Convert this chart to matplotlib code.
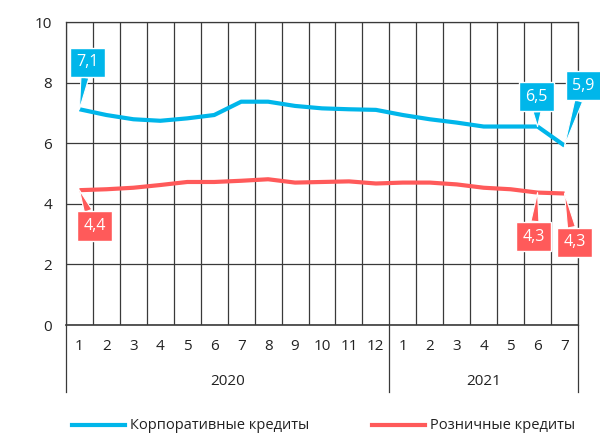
import matplotlib
matplotlib.use("Agg")
import matplotlib.pyplot as plt
from matplotlib.lines import Line2D
import matplotlib.transforms as mtransforms

plt.rcParams['font.family'] = ['Open Sans', 'DejaVu Sans']

# months: 2020 (1-12) + 2021 (1-7)
months = [str(m) for m in range(1, 13)] + [str(m) for m in range(1, 8)]
years = ["2020", "2021"]
year_len = [12, 7]

corp = [7.12, 6.93, 6.79, 6.74, 6.82, 6.93, 7.37, 7.37, 7.23, 7.15, 7.12, 7.10,
        6.93, 6.79, 6.68, 6.55, 6.55, 6.55, 5.92]
retail = [4.45, 4.48, 4.53, 4.62, 4.72, 4.72, 4.76, 4.81, 4.70, 4.72, 4.74, 4.67,
          4.70, 4.70, 4.64, 4.53, 4.48, 4.37, 4.34]

# callouts: (index, text, dx, dy) offsets in pixels
corp_labels = [(0, "7,1", 8, 47), (17, "6,5", -1, 30), (18, "5,9", 19, 60)]
retail_labels = [(0, "4,4", 15, -36), (17, "4,3", -4, -44), (18, "4,3", 10, -49)]

BLUE = "#00B6EA"
RED = "#FF5A5A"
GRID = "#3a3a3a"

fig = plt.figure(figsize=(6, 4.36), dpi=100)
ax = fig.add_axes([66 / 600, 1 - 325 / 436, 512 / 600, 303 / 436])

x = list(range(len(months)))
ax.plot(x, corp, color=BLUE, lw=3, solid_capstyle="butt", zorder=3)
ax.plot(x, retail, color=RED, lw=3, solid_capstyle="butt", zorder=3)

ax.set_xlim(-0.5, len(months) - 0.5)
ax.set_ylim(0, 10)
ax.set_yticks(range(0, 11, 2))
ax.set_xticks(x)
ax.set_xticklabels(months)
ax.set_xticks([i - 0.5 for i in range(len(months) + 1)], minor=True)
ax.tick_params(axis="both", which="both", length=0, labelsize=11, colors="#222222")
ax.tick_params(axis="x", pad=10)
ax.tick_params(axis="y", pad=10)
ax.grid(axis="y", which="major", color=GRID, lw=0.9)
ax.grid(axis="x", which="minor", color=GRID, lw=0.9)
ax.set_axisbelow(True)
for s in ax.spines.values():
    s.set_color(GRID)
    s.set_linewidth(0.9)
ax.spines["bottom"].set_linewidth(1.2)

# year labels and separators
trans = mtransforms.blended_transform_factory(ax.transData, ax.transAxes)
start = 0
seps = [-0.5]
for yr, n in zip(years, year_len):
    ax.text(start + (n - 1) / 2, -0.185, yr, transform=trans, ha="center", va="center",
            fontsize=11, color="#222222")
    start += n
    seps.append(start - 0.5)
for s in seps:
    ax.plot([s, s], [0, -0.222], transform=trans, color=GRID, lw=0.9, clip_on=False)


def callout(i, txt, dx, dy, vals, color):
    ax.annotate(txt, xy=(i, vals[i]), xytext=(dx, dy), textcoords="offset pixels",
                ha="center", va="center", fontsize=11.5, color="white", zorder=5,
                bbox=dict(boxstyle="square,pad=0.42", fc=color, ec="white", lw=1),
                arrowprops=dict(arrowstyle="wedge,tail_width=0.5,shrink_factor=0.5",
                                fc=color, ec="white", lw=0.8, shrinkA=0, shrinkB=0))


for i, t, dx, dy in corp_labels:
    callout(i, t, dx, dy, corp, BLUE)
for i, t, dx, dy in retail_labels:
    callout(i, t, dx, dy, retail, RED)

# legend
ly = 1 - 425 / 436
fig.add_artist(Line2D([72 / 600, 125 / 600], [ly, ly], color=BLUE, lw=3))
fig.text(130 / 600, ly, "Корпоративные кредиты", va="center", ha="left",
         fontsize=10.5, color="#222222")
fig.add_artist(Line2D([372 / 600, 425 / 600], [ly, ly], color=RED, lw=3))
fig.text(430 / 600, ly, "Розничные кредиты", va="center", ha="left",
         fontsize=10.5, color="#222222")

fig.savefig("out.png", dpi=100)
